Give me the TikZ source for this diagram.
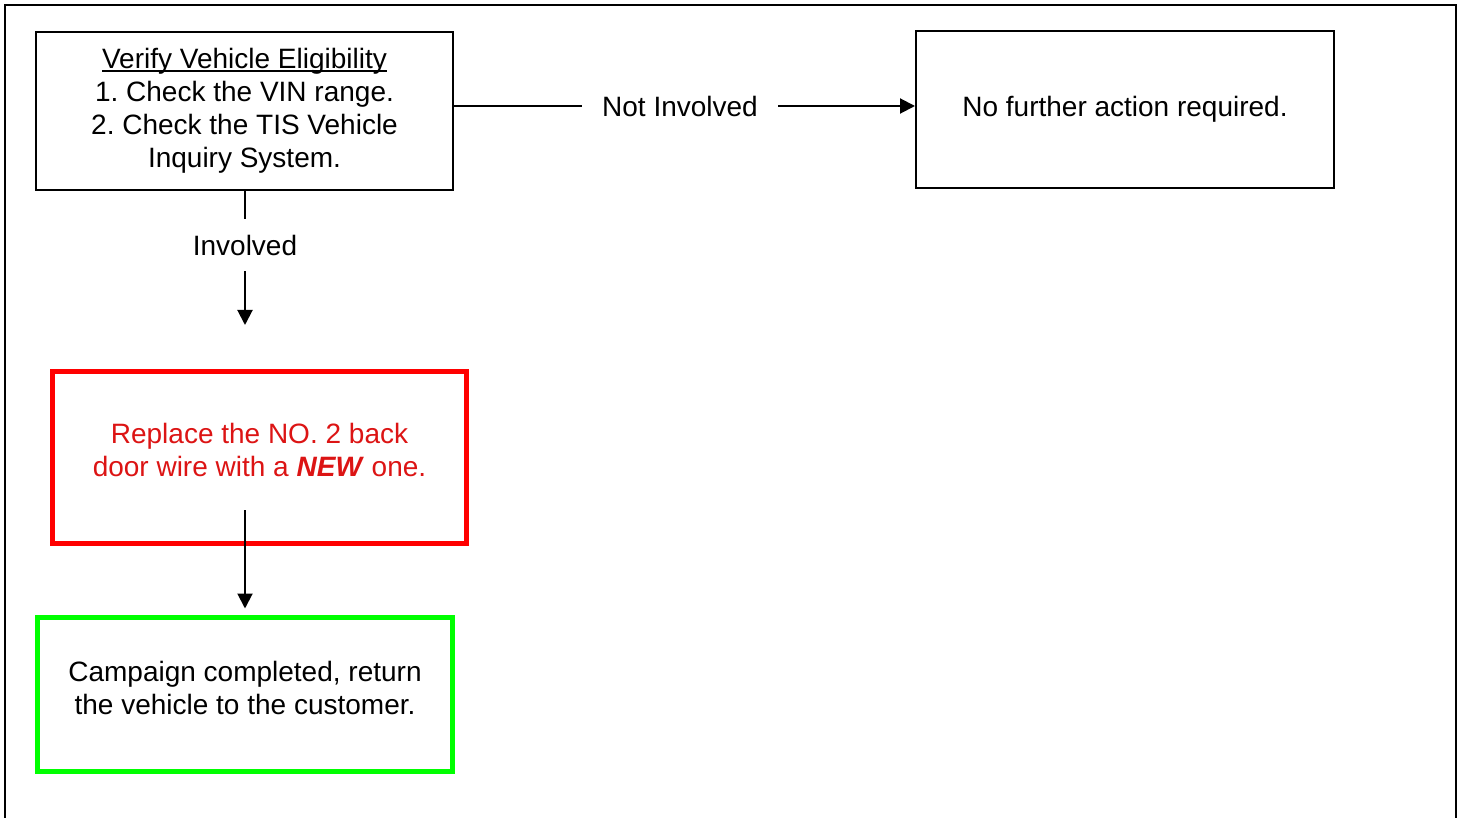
\documentclass[tikz,border=0pt]{standalone}
\usepackage{fontspec}
\setmainfont{Liberation Sans}
\usetikzlibrary{arrows.meta}
\frenchspacing
\definecolor{boxred}{RGB}{255,0,0}
\definecolor{textred}{RGB}{220,20,20}
\definecolor{boxgreen}{RGB}{0,255,0}
\newcommand\ulword[1]{\setbox0\hbox{#1}\rlap{\rule[-1.6pt]{\wd0}{0.75pt}}\box0}
\tikzset{
  stepbox/.style={draw,line width=1pt,align=center,font=\fontsize{14}{16.5}\selectfont},
  raised/.style={text height=27pt,text depth=#1},
  flowarrow/.style={line width=1pt,-{Triangle[length=7.5pt,width=7.5pt]}},
  flowline/.style={line width=1pt},
  branch/.style={fill=white,font=\fontsize{14}{16.5}\selectfont,inner xsep=10pt,inner ysep=7.8pt}
}
\begin{document}
\begin{tikzpicture}[x=0.5pt,y=-0.5pt]
  \useasboundingbox (0,0) rectangle (1462,818);
  % outer frame, open at the bottom
  \draw[line width=1pt] (5,818) |- (1456,5) -- (1456,818);

  \node[stepbox,minimum width=208.5pt,minimum height=79pt] (verify) at (244.5,111)
    {\ulword{Verify Vehicle Eligibility}\\1. Check the VIN range.\\2. Check the TIS Vehicle\\Inquiry System.};
  \node[stepbox,minimum width=209pt,minimum height=78.5pt] (nofurther) at (1125,109.5)
    {No further action required.};
  \node[stepbox,raised=8.5pt,draw=boxred,line width=2.5pt,text=textred,minimum width=207pt,minimum height=86pt] (replace) at (259.5,457.5)
    {Replace the NO. 2 back\\door wire with a \textbf{\textit{NEW}} one.};
  \node[stepbox,raised=7.5pt,draw=boxgreen,line width=2.5pt,minimum width=207.5pt,minimum height=77pt] (done) at (245,694.5)
    {Campaign completed, return\\the vehicle to the customer.};

  % branch labels
  \node[branch] (notinv) at (680,106) {Not Involved};
  \node[branch] (inv) at (245,245) {Involved};
  \coordinate (invend) at (245,325);
  \coordinate (replstart) at (245,510);

  \draw[flowline] (verify.east |- notinv) -- (notinv);
  \draw[flowarrow] (notinv) -- (nofurther.west |- notinv);
  \draw[flowline] (verify.south -| inv) -- (inv);
  \draw[flowarrow] (inv) -- (invend);
  \draw[flowarrow,shorten >=3.25pt] (replstart) -- (done.north);
\end{tikzpicture}
\end{document}
